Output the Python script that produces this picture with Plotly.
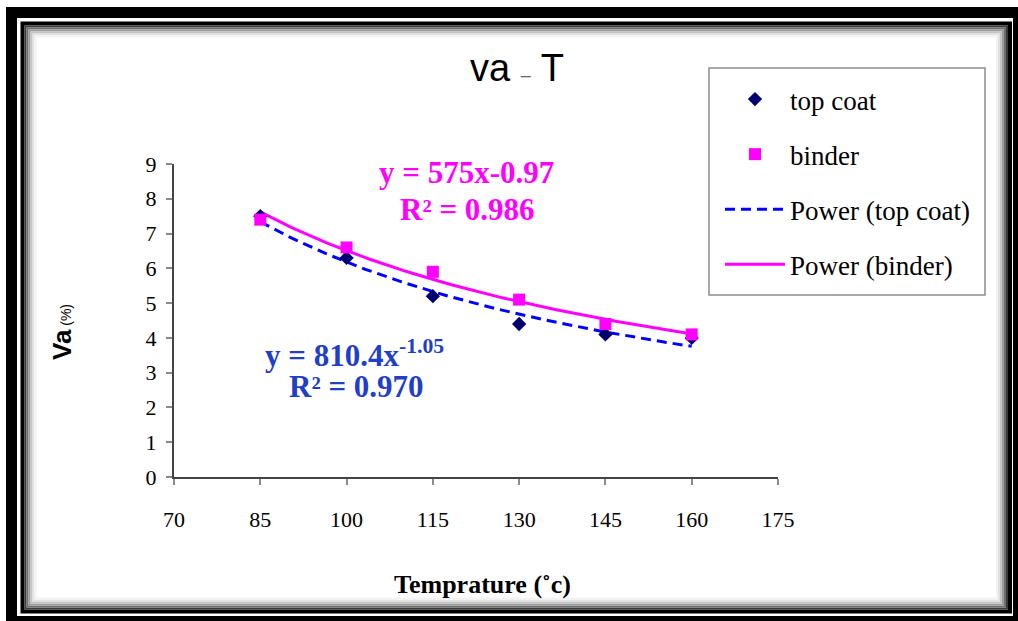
import numpy as np
import plotly.graph_objects as go

# Measured data
temperature = [85, 100, 115, 130, 145, 160]
va_top_coat = [7.5, 6.3, 5.2, 4.4, 4.1, 4.0]
va_binder = [7.4, 6.6, 5.9, 5.1, 4.4, 4.1]

x_ticks = [70, 85, 100, 115, 130, 145, 160, 175]
y_ticks = [0, 1, 2, 3, 4, 5, 6, 7, 8, 9]

eq_top_coat = ["y = 810.4x<sup>-1.05</sup>", "R² = 0.970"]
eq_binder = ["y = 575x-0.97", "R² = 0.986"]

# Figure geometry (pixels)
W, H = 1018, 621
L, R, T, B = 174, 778, 164, 477


def px(xp):
    return (xp - L) / (R - L)


def py(yp):
    return (B - yp) / (B - T)


def power_fit(x, y):
    """Least-squares power trendline y = a * x^b (fit in log-log space)."""
    b, ln_a = np.polyfit(np.log(x), np.log(y), 1)
    xs = np.linspace(min(x), max(x), 120)
    return xs, np.exp(ln_a) * xs ** b


SERIF = "Liberation Serif"
SANS = "Liberation Sans"
MAGENTA = "#FF00FF"
BLUE = "#0000FF"
NAVY = "#000070"
EQ_BLUE = "#1F3FC6"

fig = go.Figure()

xt, yt = power_fit(temperature, va_top_coat)
xb, yb = power_fit(temperature, va_binder)

fig.add_trace(go.Scatter(
    x=xt, y=yt, mode="lines", name="Power (top coat)",
    line=dict(color=BLUE, width=3, dash="10px,6px"),
    legendrank=3, legendgroup="c", hoverinfo="skip"))
fig.add_trace(go.Scatter(
    x=xb, y=yb, mode="lines", name="Power (binder)",
    line=dict(color=MAGENTA, width=3),
    legendrank=4, legendgroup="d", hoverinfo="skip"))
fig.add_trace(go.Scatter(
    x=temperature, y=va_top_coat, mode="markers", name="top coat",
    marker=dict(symbol="diamond", size=11, color=NAVY),
    legendrank=1, legendgroup="a"))
fig.add_trace(go.Scatter(
    x=temperature, y=va_binder, mode="markers", name="binder",
    marker=dict(symbol="square", size=12, color=MAGENTA),
    legendrank=2, legendgroup="b"))

axis_common = dict(
    showgrid=False, zeroline=False, showline=True,
    linecolor="#444444", linewidth=2,
    ticks="outside", ticklen=6, tickwidth=1.5, tickcolor="#8a8a8a",
    tickfont=dict(family=SERIF, size=22, color="black"),
)

fig.update_xaxes(range=[70, 175], tickvals=x_ticks, ticklabelstandoff=16,
                 **axis_common)
fig.update_yaxes(range=[0, 9], tickvals=y_ticks, ticklabelstandoff=5,
                 **axis_common)


def band(x0, y0, x1, y1, color):
    return dict(type="rect", xref="paper", yref="paper",
                x0=px(x0), x1=px(x1), y0=py(y1), y1=py(y0),
                line=dict(width=0), fillcolor=color)


shapes = []
# Outer heavy frame (four bands)
shapes += [band(6, 7, 1018, 18, "black"),
           band(6, 7, 17, 621, "black"),
           band(1013, 7, 1018, 621, "black"),
           band(6, 616, 1018, 621, "black")]
# Inner frame with soft inner shadow
shadow = [("#000000", 0, 4), ("#3a3a3a", 3, 2), ("#6e6e6e", 5, 2),
          ("#9c9c9c", 7, 2), ("#c4c4c4", 9, 2), ("#e2e2e2", 11, 2),
          ("#f3f3f3", 13, 2)]
for color, inset, w in shadow:
    shapes.append(dict(type="rect", xref="paper", yref="paper",
                       x0=px(22.5 + inset), x1=px(1010 - inset),
                       y0=py(611.5 - inset), y1=py(23.5 + inset),
                       line=dict(color=color, width=w),
                       fillcolor="rgba(0,0,0,0)"))
# Legend box
shapes.append(dict(type="rect", xref="paper", yref="paper",
                   x0=px(709), x1=px(985), y0=py(295), y1=py(68),
                   line=dict(color="#8c8c8c", width=1.5),
                   fillcolor="rgba(0,0,0,0)"))

annotations = [
    dict(text=eq_binder[0], x=px(466), y=py(172)),
    dict(text=eq_binder[1], x=px(467), y=py(209)),
    dict(text=eq_top_coat[0], x=px(354), y=py(353)),
    dict(text=eq_top_coat[1], x=px(356), y=py(386)),
]
eq_colors = [MAGENTA, MAGENTA, EQ_BLUE, EQ_BLUE]
for a, c in zip(annotations, eq_colors):
    a.update(xref="paper", yref="paper", showarrow=False,
             xanchor="center", yanchor="middle",
             font=dict(family=SERIF, size=31, color=c, weight="bold"))

annotations.append(dict(
    text="Va<span style='font-size:14px;font-weight:normal'> (%)</span>",
    xref="paper", yref="paper", x=px(62), y=py(332), textangle=-90,
    showarrow=False, xanchor="center", yanchor="middle",
    font=dict(family=SANS, size=26, color="black", weight="bold")))
annotations.append(dict(
    text="Temprature (˚c)",
    xref="paper", yref="paper", x=px(482), y=py(584),
    showarrow=False, xanchor="center", yanchor="middle",
    font=dict(family=SERIF, size=26, color="black", weight="bold")))

fig.update_layout(
    width=W, height=H,
    margin=dict(l=L, r=W - R, t=T, b=H - B, autoexpand=False),
    paper_bgcolor="white", plot_bgcolor="white",
    title=dict(text="va <span style='font-size:18px;color:#55647f'>–</span> T",
               x=517 / W, xref="container", xanchor="center",
               y=1 - 68 / H, yref="container", yanchor="middle",
               font=dict(family=SANS, size=38, color="black")),
    showlegend=True,
    legend=dict(x=px(720), y=py(75), xanchor="left", yanchor="top",
                xref="paper", yref="paper",
                bgcolor="rgba(0,0,0,0)", borderwidth=0,
                itemwidth=60,
                traceorder="grouped", tracegroupgap=17,
                font=dict(family=SERIF, size=27, color="black")),
    shapes=shapes,
    annotations=annotations,
)

fig.write_html("out.html")
